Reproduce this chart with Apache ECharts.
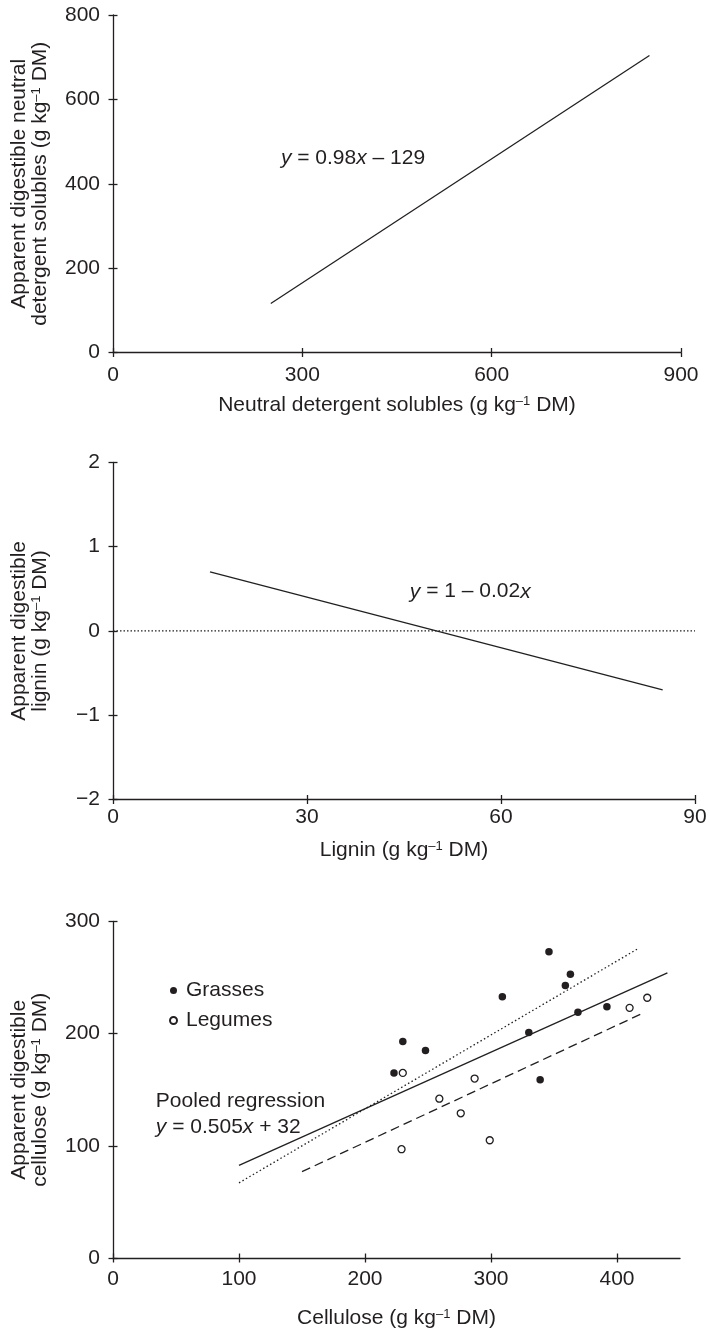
<!DOCTYPE html>
<html>
<head>
<meta charset="utf-8">
<script src="https://cdn.jsdelivr.net/npm/echarts@6/dist/echarts.min.js"></script>
<style>
html,body{margin:0;padding:0;background:#fff;}
#c{width:710px;height:1330px;}
</style>
</head>
<body>
<div id="c"></div>
<script>
// ---------- Panel A: neutral detergent solubles ----------
const ndsLine = [[250, 116], [850, 704]];          // y = 0.98x - 129
const ndsXTicks = [0, 300, 600, 900];
const ndsYTicks = [0, 200, 400, 600, 800];

// ---------- Panel B: lignin ----------
const ligninLine = [[15, 0.7], [85, -0.7]];        // y = 1 - 0.02x
const ligninZero = [[0, 0], [90, 0]];
const ligninXTicks = [0, 30, 60, 90];
const ligninYTicks = [-2, -1, 0, 1, 2];

// ---------- Panel C: cellulose ----------
const grassesX = [223, 230, 248, 309, 330, 339, 346, 359, 363, 369, 392];
const grassesY = [165, 193, 185, 233, 201, 159, 273, 243, 253, 219, 224];
const legumesX = [230, 229, 259, 276, 287, 299, 410, 424];
const legumesY = [165, 97, 142, 129, 160, 105, 223, 232];
const pooledLine = [[100, 82.5], [440, 254.2]];    // y = 0.505x + 32
const grassesLine = [[100, 67], [417, 276]];
const legumesLine = [[150, 77], [420, 218]];
const celXTicks = [0, 100, 200, 300, 400];
const celYTicks = [0, 100, 200, 300];

const INK = '#231f20';
const FONT = '"Liberation Sans", Arial, Helvetica, sans-serif';
const FS = 21;

const richName = {
  n: {fontSize: FS, fontFamily: FONT, color: INK, lineHeight: 21},
  s: {fontSize: 13, fontFamily: FONT, color: INK, lineHeight: 12, verticalAlign: 'top'}
};
const richAnn = {
  n: {fontSize: FS, fontFamily: FONT, color: INK, opacity: 1, lineHeight: 26},
  i: {fontSize: FS, fontFamily: FONT, color: INK, opacity: 1, lineHeight: 26, fontStyle: 'italic'}
};
const fmt = v => String(v).replace('-', '\u2212');

function xAxes(gi, min, max, interval, ticks, margin, name, nameGap) {
  return [{
    type: 'value', gridIndex: gi, position: 'bottom', min, max, interval,
    axisLine: {show: true, onZero: false, lineStyle: {color: INK, width: 1.3}},
    axisTick: {show: true, inside: false, length: 4.5, customValues: ticks, lineStyle: {color: INK, width: 1.3}},
    axisLabel: {show: true, margin, customValues: ticks, color: INK, fontFamily: FONT, fontSize: FS, formatter: fmt},
    splitLine: {show: false},
    name, nameLocation: 'middle', nameGap, nameTextStyle: {rich: richName}
  }, {
    type: 'value', gridIndex: gi, position: 'bottom', min, max, interval,
    axisLine: {show: false, onZero: false},
    axisTick: {show: true, inside: true, length: 4.5, customValues: ticks, lineStyle: {color: INK, width: 1.3}},
    axisLabel: {show: false}, splitLine: {show: false}
  }];
}
function yAxes(gi, min, max, interval, ticks, name, nameGap) {
  return [{
    type: 'value', gridIndex: gi, position: 'left', min, max, interval,
    axisLine: {show: true, onZero: false, lineStyle: {color: INK, width: 1.3}},
    axisTick: {show: true, inside: false, length: 4.5, customValues: ticks, lineStyle: {color: INK, width: 1.3}},
    axisLabel: {show: true, margin: 13, customValues: ticks, color: INK, fontFamily: FONT, fontSize: FS, formatter: fmt},
    splitLine: {show: false},
    name, nameLocation: 'middle', nameGap, nameRotate: 90, nameTextStyle: {rich: richName, align: 'center'}
  }, {
    type: 'value', gridIndex: gi, position: 'left', min, max, interval,
    axisLine: {show: false, onZero: false},
    axisTick: {show: true, inside: true, length: 4.5, customValues: ticks, lineStyle: {color: INK, width: 1.3}},
    axisLabel: {show: false}, splitLine: {show: false}
  }];
}

function lineSeries(name, gi, data, type) {
  return {
    name, type: 'line', xAxisIndex: 2 * gi, yAxisIndex: 2 * gi, data,
    symbol: 'none', showSymbol: false, silent: true, z: 2,
    lineStyle: {color: INK, width: 1.3, type: type || 'solid'}
  };
}
function annSeries(gi, point, text) {
  return {
    type: 'scatter', xAxisIndex: 2 * gi, yAxisIndex: 2 * gi, data: [point],
    symbolSize: 0.01, silent: true, itemStyle: {color: INK, opacity: 1},
    label: {show: true, position: 'right', distance: 0, formatter: text, rich: richAnn,
            align: 'left', color: INK, opacity: 1, textBorderWidth: 0}
  };
}

const sup = '{s|\u20131}';
const option = {
  backgroundColor: '#fff',
  animation: false,
  textStyle: {fontFamily: FONT, color: INK},
  grid: [
    {left: 113, right: 29, top: 15, height: 337.5},
    {left: 113, right: 15, top: 462.3, height: 337.2},
    {left: 113, right: 30, top: 921.5, height: 337}
  ],
  legend: {
    orient: 'vertical', left: 164, top: 975, itemWidth: 15, itemHeight: 7, itemGap: 9,
    icon: 'circle', data: ['Grasses', 'Legumes'],
    textStyle: {fontSize: FS, fontFamily: FONT, color: INK, lineHeight: 21}
  },
  xAxis: [].concat(
    xAxes(0, 0, 900, 300, ndsXTicks, 12, '{n|Neutral detergent solubles (g kg}' + sup + '{n| DM)}', 42),
    xAxes(1, 0, 90, 30, ligninXTicks, 7, '{n|Lignin (g kg}' + sup + '{n| DM)}', 40),
    xAxes(2, 0, 450, 100, celXTicks, 11, '{n|Cellulose (g kg}' + sup + '{n| DM)}', 50)
  ),
  yAxis: [].concat(
    yAxes(0, 0, 800, 200, ndsYTicks, '{n|Apparent digestible neutral}\n{n|detergent solubles (g kg}' + sup + '{n| DM)}', 62),
    yAxes(1, -2, 2, 1, ligninYTicks, '{n|Apparent digestible}\n{n|lignin (g kg}' + sup + '{n| DM)}', 62),
    yAxes(2, 0, 300, 100, celYTicks, '{n|Apparent digestible}\n{n|cellulose (g kg}' + sup + '{n| DM)}', 62)
  ),
  series: [
    lineSeries('NDS regression', 0, ndsLine),
    annSeries(0, [266, 460], '{i|y}{n| = 0.98}{i|x}{n| \u2013 129}'),
    lineSeries('Zero', 1, ligninZero, [1.5, 2]),
    lineSeries('Lignin regression', 1, ligninLine),
    annSeries(1, [45.9, 0.465], '{i|y}{n| = 1 \u2013 0.02}{i|x}'),
    lineSeries('Pooled regression', 2, pooledLine),
    lineSeries('Grasses regression', 2, grassesLine, [1.5, 2.5]),
    lineSeries('Legumes regression', 2, legumesLine, [9, 5]),
    {
      name: 'Grasses', type: 'scatter', xAxisIndex: 4, yAxisIndex: 4, z: 5,
      data: grassesX.map((x, i) => [x, grassesY[i]]),
      symbol: 'circle', symbolSize: 7.5, itemStyle: {color: INK, opacity: 1}
    },
    {
      name: 'Legumes', type: 'scatter', xAxisIndex: 4, yAxisIndex: 4, z: 5,
      data: legumesX.map((x, i) => [x, legumesY[i]]),
      symbol: 'circle', symbolSize: 7, itemStyle: {color: '#fff', borderColor: INK, borderWidth: 1.3, opacity: 1}
    },
    annSeries(2, [34, 128.2], '{n|Pooled regression}\n{i|y}{n| = 0.505}{i|x}{n| + 32}')
  ]
};
const chart = echarts.init(document.getElementById('c'), null, {renderer: 'canvas'});
chart.setOption(option);
</script>
</body>
</html>
